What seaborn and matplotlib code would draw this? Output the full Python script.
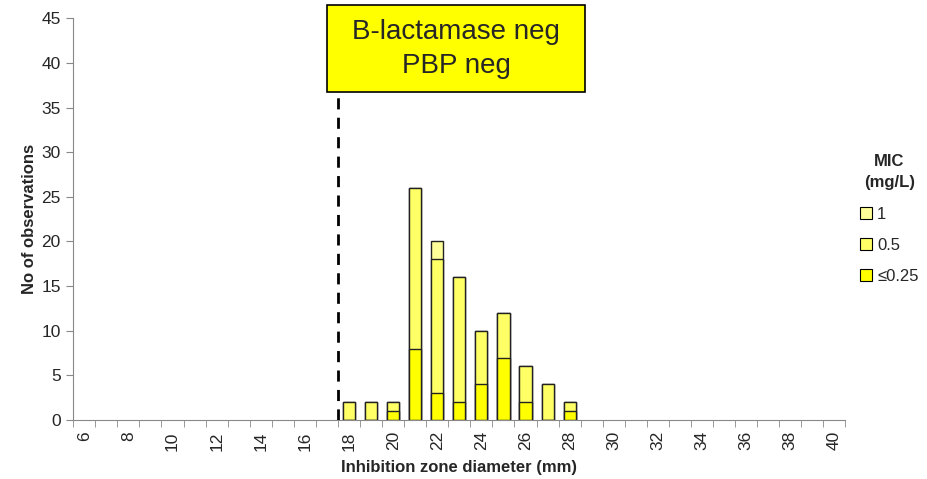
import numpy as np
import pandas as pd
import matplotlib
matplotlib.use("Agg")
import matplotlib.pyplot as plt
from matplotlib.patches import Patch, Rectangle
import seaborn as sns

# zone diameters (mm) and counts per MIC class
diameters = list(range(6, 41))
zones_with_data = [18, 19, 20, 21, 22, 23, 24, 25, 26, 27, 28]
mic_le025 = [0, 0, 1, 8, 3, 2, 4, 7, 2, 0, 1]
mic_05 = [2, 2, 1, 18, 15, 14, 6, 5, 4, 4, 1]
mic_1 = [0, 0, 0, 0, 2, 0, 0, 0, 0, 0, 0]

mic_labels = ["1", "0.5", "\u22640.25"]
colors = {"1": "#FFFF99", "0.5": "#FFFF66", "\u22640.25": "#FFFF00"}

df = pd.DataFrame({"zone": zones_with_data, "le025": mic_le025,
                   "m05": mic_05, "m1": mic_1})
df["top1"] = df["le025"] + df["m05"] + df["m1"]
df["top05"] = df["le025"] + df["m05"]

sns.set_style("white")
plt.rcParams["font.family"] = ["Liberation Sans", "DejaVu Sans"]

fig = plt.figure(figsize=(9.27, 4.79), dpi=100)
ax = fig.add_axes([0.079, 0.123, 0.833, 0.839])

# stacked bars drawn back to front
for col, lab in [("top1", "1"), ("top05", "0.5"), ("le025", "\u22640.25")]:
    sns.barplot(data=df, x="zone", y=col, order=diameters, color=colors[lab],
                saturation=1, width=0.55, edgecolor="#222222", linewidth=1.0,
                ax=ax, zorder=2)

ax.set_ylim(0, 45)
ax.set_yticks(range(0, 46, 5))
ax.set_xlim(-0.5, len(diameters) - 0.5)
ax.set_xticks(np.arange(len(diameters)))
ax.set_xticklabels([str(d) if d % 2 == 0 else "" for d in diameters],
                   rotation=90, fontsize=12.5)
ax.tick_params(axis="y", labelsize=12.5, length=5, color="#888888", direction="out",
               left=True, pad=4)
ax.tick_params(axis="x", length=0, pad=8)
# tick marks between categories
ax.set_xticks(np.arange(len(diameters) + 1) - 0.5, minor=True)
ax.tick_params(axis="x", which="minor", length=5, color="#888888", direction="out", bottom=True)

for s in ["top", "right"]:
    ax.spines[s].set_visible(False)
for s in ["left", "bottom"]:
    ax.spines[s].set_color("#888888")

ax.set_xlabel("Inhibition zone diameter (mm)", fontsize=12, fontweight="bold", labelpad=7)
ax.set_ylabel("No of observations", fontsize=12, fontweight="bold", labelpad=3)

# breakpoint line
bp = diameters.index(18) - 0.5
ax.plot([bp, bp], [0, 36.5], color="black", linestyle=(0, (4, 3)), linewidth=2, zorder=3)

fig.add_artist(Rectangle((0.353, 0.808), 0.278, 0.182, transform=fig.transFigure,
                         facecolor="#FFFF00", edgecolor="black", linewidth=1.2))
fig.text(0.492, 0.897, "B-lactamase neg\nPBP neg", ha="center", va="center",
         fontsize=20, linespacing=1.4)

handles = [Patch(facecolor=colors[l], edgecolor="black", linewidth=0.8) for l in mic_labels]
leg = ax.legend(handles, mic_labels, title="MIC\n(mg/L)", loc="center left",
                bbox_to_anchor=(1.0, 0.5), frameon=False, fontsize=12,
                handlelength=0.7, handleheight=0.7, handletextpad=0.3,
                labelspacing=0.95)
leg.get_title().set_fontweight("bold")
leg.get_title().set_fontsize(12)
leg.get_title().set_multialignment("center")
leg.get_title().set_linespacing(1.5)
leg._legend_box.align = "center"
leg._legend_box.sep = 12

fig.savefig("out.png", dpi=100)
